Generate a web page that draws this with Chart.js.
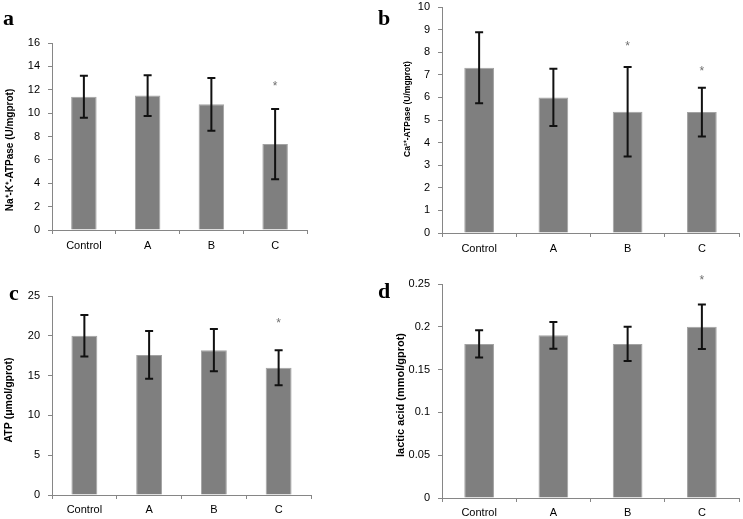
<!DOCTYPE html>
<html>
<head>
<meta charset="utf-8">
<script src="https://cdn.jsdelivr.net/npm/chart.js@4.4.1/dist/chart.umd.min.js"></script>
<style>
    html, body { margin: 0; padding: 0; background: #fff; }
    #wrap { position: relative; width: 743px; height: 519px; overflow: hidden; }
    canvas { position: absolute; }
</style>
</head>
<body>
<div id="wrap">
    <canvas id="panel_a" style="left:0px;top:0px;width:372px;height:260px"></canvas>
    <canvas id="panel_b" style="left:372px;top:0px;width:371px;height:260px"></canvas>
    <canvas id="panel_c" style="left:0px;top:260px;width:372px;height:259px"></canvas>
    <canvas id="panel_d" style="left:372px;top:260px;width:371px;height:259px"></canvas>
</div>
<script>
var categories = ['Control', 'A', 'B', 'C'];

// a: Na+-K+-ATPase
var nak_mean = [11.4, 11.5, 10.75, 7.35];
var nak_sd = [1.8, 1.75, 2.25, 3.0];
var nak_star = [null, null, null, 12.6];
var nak_ticks = [0, 2, 4, 6, 8, 10, 12, 14, 16];

// b: Ca2+-ATPase
var ca_mean = [7.31, 6.0, 5.37, 5.35];
var ca_sd = [1.57, 1.27, 1.98, 1.08];
var ca_star = [null, null, 8.4, 7.3];
var ca_ticks = [0, 1, 2, 3, 4, 5, 6, 7, 8, 9, 10];

// c: ATP
var atp_mean = [20.0, 17.6, 18.2, 16.0];
var atp_sd = [2.6, 3.0, 2.65, 2.2];
var atp_star = [null, null, null, 22.0];
var atp_ticks = [0, 5, 10, 15, 20, 25];

// d: lactic acid
var lac_mean = [0.18, 0.19, 0.18, 0.2];
var lac_sd = [0.016, 0.0155, 0.02, 0.026];
var lac_star = [null, null, null, 0.258];
var lac_ticks = [0, 0.05, 0.1, 0.15, 0.2, 0.25];

var axis_color = '#868686';
var tick_font = { family: 'Liberation Sans, Arial, sans-serif', size: 11 };

// error bars, asterisks, rotated axis title and panel letter
var panel_extras = {
    id: 'panel_extras',
    afterDatasetsDraw: function (chart, args, opts) {
        var ctx = chart.ctx;
        var meta = chart.getDatasetMeta(0);
        var y = chart.scales.y;
        ctx.save();
        ctx.strokeStyle = '#111';
        ctx.lineWidth = 2;
        meta.data.forEach(function (bar, i) {
            var m = opts.mean[i], s = opts.sd[i];
            var top = y.getPixelForValue(m + s);
            var bot = y.getPixelForValue(m - s);
            ctx.beginPath();
            ctx.moveTo(bar.x, top);
            ctx.lineTo(bar.x, bot);
            ctx.moveTo(bar.x - 4, top);
            ctx.lineTo(bar.x + 4, top);
            ctx.moveTo(bar.x - 4, bot);
            ctx.lineTo(bar.x + 4, bot);
            ctx.stroke();
            if (opts.star[i] !== null) {
                ctx.fillStyle = '#6f6f6f';
                ctx.font = '12px "Liberation Sans", Arial, sans-serif';
                ctx.textAlign = 'center';
                ctx.textBaseline = 'alphabetic';
                ctx.fillText('*', bar.x, y.getPixelForValue(opts.star[i]) + 7);
            }
        });

        ctx.fillStyle = '#000';
        ctx.font = 'bold ' + opts.titleSize + 'px "Liberation Sans", Arial, sans-serif';
        ctx.textAlign = 'center';
        ctx.textBaseline = 'middle';
        ctx.translate(opts.titleX, opts.titleY);
        ctx.rotate(-Math.PI / 2);
        ctx.fillText(opts.title, 0, 0);
        ctx.restore();

        ctx.save();
        ctx.fillStyle = '#000';
        ctx.font = 'bold 22px "Liberation Serif", "Times New Roman", serif';
        ctx.textAlign = 'left';
        ctx.textBaseline = 'alphabetic';
        ctx.fillText(opts.letter, opts.letterX, opts.letterY);
        ctx.restore();
    }
};

function make_panel(id, mean, sd, star, ticks, extras, box) {
    var settings = {
        type: 'bar',
        data: {
            labels: categories,
            datasets: [{
                data: mean,
                backgroundColor: '#7f7f7f',
                borderColor: '#a3a3a3',
                borderWidth: 1,
                barPercentage: 0.5,
                categoryPercentage: 0.8
            }]
        },
        options: {
            responsive: false,
            animation: false,
            devicePixelRatio: 1,
            layout: {
                padding: { top: box.top, right: box.right, left: 0, bottom: 0 }
            },
            plugins: {
                legend: { display: false },
                tooltip: { enabled: false },
                panel_extras: {
                    mean: mean,
                    sd: sd,
                    star: star,
                    title: extras.title,
                    titleSize: extras.titleSize,
                    titleX: extras.titleX,
                    titleY: extras.titleY,
                    letter: extras.letter,
                    letterX: extras.letterX,
                    letterY: extras.letterY
                }
            },
            scales: {
                x: {
                    grid: { drawOnChartArea: false, color: axis_color, tickLength: 4 },
                    border: { color: axis_color },
                    ticks: { color: '#000', font: tick_font, padding: box.xpad },
                    afterFit: function (scale) { scale.height = box.xh; }
                },
                y: {
                    min: ticks[0],
                    max: ticks[ticks.length - 1],
                    grid: { drawOnChartArea: false, color: axis_color, tickLength: 4 },
                    border: { color: axis_color },
                    ticks: {
                        color: '#000',
                        font: tick_font,
                        padding: 8,
                        callback: function (value) { return String(value); }
                    },
                    afterBuildTicks: function (scale) {
                        scale.ticks = ticks.map(function (v) { return { value: v }; });
                    },
                    afterFit: function (scale) {
                        scale.width = box.yw;
                        scale.paddingTop = 0;
                        scale.paddingBottom = 0;
                    }
                }
            }
        },
        plugins: [panel_extras]
    };
    var el = document.getElementById(id);
    el.width = parseInt(el.style.width);
    el.height = parseInt(el.style.height);
    return new Chart(el, settings);
}

make_panel('panel_a', nak_mean, nak_sd, nak_star, nak_ticks,
    { title: 'Na\u207A-K\u207A-ATPase (U/mgprot)', titleSize: 10, titleX: 10, titleY: 150, letter: 'a', letterX: 3, letterY: 25 },
    { top: 43, right: 65, yw: 52, xh: 30, xpad: 5 });

make_panel('panel_b', ca_mean, ca_sd, ca_star, ca_ticks,
    { title: 'Ca\u00B2\u207A-ATPase (U/mgprot)', titleSize: 8.5, titleX: 36, titleY: 109, letter: 'b', letterX: 6, letterY: 25 },
    { top: 7, right: 4, yw: 70, xh: 27, xpad: 5 });

make_panel('panel_c', atp_mean, atp_sd, atp_star, atp_ticks,
    { title: 'ATP (\u03BCmol/gprot)', titleSize: 10.5, titleX: 9, titleY: 140, letter: 'c', letterX: 9, letterY: 40 },
    { top: 36, right: 61, yw: 52, xh: 24, xpad: 4 });

make_panel('panel_d', lac_mean, lac_sd, lac_star, lac_ticks,
    { title: 'lactic acid (mmol/gprot)', titleSize: 11, titleX: 29, titleY: 135, letter: 'd', letterX: 6, letterY: 38 },
    { top: 24, right: 4, yw: 70, xh: 21, xpad: 4 });
</script>
</body>
</html>
